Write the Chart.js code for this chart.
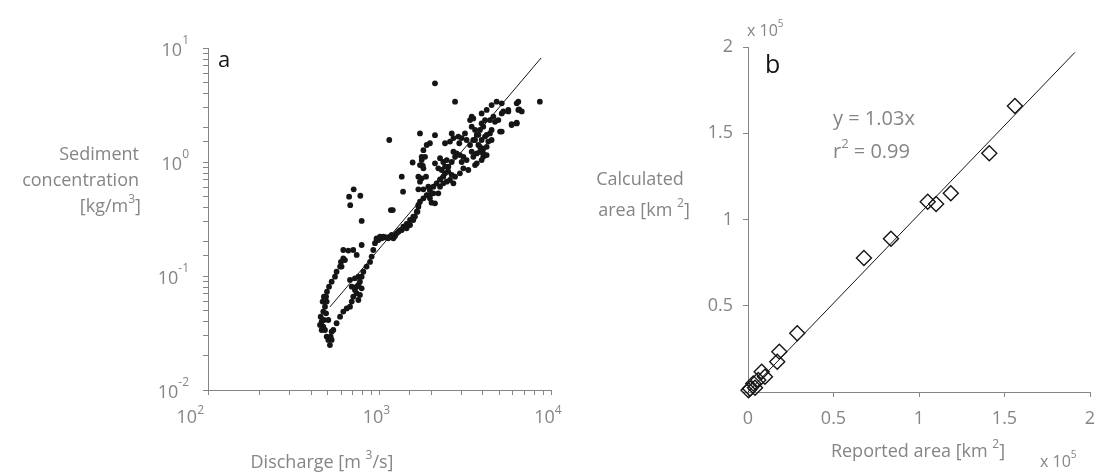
<!DOCTYPE html>
<html>
<head>
<meta charset="utf-8">
<title>Discharge / area charts</title>
<script src="https://cdn.jsdelivr.net/npm/chart.js@4.4.0/dist/chart.umd.min.js"></script>
<style>
  html, body { margin: 0; padding: 0; background: #fff; }
  #wrap { position: relative; width: 1104px; height: 474px; overflow: hidden; }
  #chartA { position: absolute; left: 0; top: 0; }
  #chartB { position: absolute; left: 560px; top: 0; }
</style>
</head>
<body>
<div id="wrap">
  <canvas id="chartA" width="600" height="474"></canvas>
  <canvas id="chartB" width="544" height="474"></canvas>
</div>
<script>
// ===============================
// DATA - panel a (log-log)
// ===============================
const discharge = [
  514, 492, 481, 470, 460, 454, 470, 481, 492, 488,
  494, 508, 526, 550, 562, 589, 596, 615, 460, 450,
  474, 488, 503, 519, 526, 503, 466, 474, 601, 629,
  615, 658, 703, 736, 787, 665, 707, 773, 675, 787,
  1165, 1195, 1140, 526, 538, 562, 589, 615, 644, 673,
  689, 703, 719, 736, 753, 769, 753, 787, 805, 841,
  881, 900, 920, 941, 962, 1007, 1052, 1101, 1151, 1205,
  1232, 1259, 1318, 1377, 1439, 1507, 1574, 1648, 1685, 1722,
  1803, 1884, 1968, 2061, 2153, 2254, 2355, 2410, 2520, 2637,
  2758, 1076, 1030, 985, 1125, 1178, 673, 689, 719, 736,
  769, 753, 787, 1348, 1372, 1560, 1762, 1787, 1685, 1762,
  1868, 1722, 1685, 1803, 1926, 1968, 2011, 2106, 2203, 1685,
  1665, 1610, 1574, 1507, 1439, 1348, 1290, 1178, 962, 2758,
  2106, 1722, 3448, 3940, 4217, 4505, 4819, 5160, 5637, 5160,
  6310, 6450, 5895, 6310, 5047, 4715, 4505, 3448, 3607, 3690,
  3524, 3373, 3773, 3940, 4122, 4027, 3855, 4217, 4310, 3690,
  3524, 4027, 4217, 4406, 4505, 3150, 3221, 3013, 2919, 2637,
  2698, 2881, 2576, 2410, 2698, 2818, 2944, 3083, 3221, 3013,
  2254, 2355, 2466, 2203, 2305, 2410, 2106, 1884, 1968, 1803,
  1843, 1762, 1722, 1803, 2520, 2637, 2758, 2944, 3607, 3083,
  3296, 8610, 6450, 6520, 6750, 5272, 5637, 5895, 6310, 5160,
  2106, 3855, 4027, 4122, 3940, 3773, 4217, 3607, 3855, 4027,
  3940, 3690, 3448, 4613, 4932, 4406, 3524, 3373, 2254, 2355,
  2466, 2061, 1968, 2698, 2576
];
const concentration = [
  0.0248, 0.0294, 0.0336, 0.0360, 0.0398, 0.0440, 0.0487, 0.0538, 0.0596, 0.0659,
  0.0729, 0.0806, 0.0892, 0.0987, 0.109, 0.121, 0.133, 0.143, 0.0336, 0.0372,
  0.0411, 0.0471, 0.0411, 0.0294, 0.0325, 0.0275, 0.0596, 0.0659, 0.121, 0.138,
  0.169, 0.167, 0.169, 0.153, 0.187, 0.496, 0.576, 0.506, 0.418, 0.304,
  0.379, 0.379, 1.56, 0.0275, 0.0336, 0.0385, 0.0440, 0.0487, 0.0520, 0.0538,
  0.0596, 0.0659, 0.0754, 0.0806, 0.0834, 0.0892, 0.0987, 0.0987, 0.109, 0.121,
  0.133, 0.148, 0.169, 0.194, 0.214, 0.221, 0.221, 0.218, 0.221, 0.214,
  0.224, 0.237, 0.253, 0.271, 0.286, 0.310, 0.332, 0.367, 0.406, 0.449,
  0.480, 0.513, 0.568, 0.608, 0.650, 0.703, 0.744, 0.796, 0.910, 1.00,
  1.11, 0.218, 0.214, 0.207, 0.214, 0.229, 0.0923, 0.0806, 0.0955, 0.0705,
  0.0682, 0.0616, 0.0780, 0.744, 0.549, 0.99, 1.11, 0.93, 0.744, 0.719,
  0.744, 0.672, 0.576, 0.576, 0.608, 0.480, 0.440, 0.434, 0.531, 0.420,
  0.367, 0.332, 0.310, 0.280, 0.262, 0.253, 0.245, 0.221, 0.207, 3.38,
  1.72, 1.78, 2.50, 2.67, 2.86, 3.16, 3.38, 3.27, 2.78, 2.67,
  3.27, 2.86, 2.11, 2.18, 1.85, 2.25, 1.91, 2.04, 1.91, 1.73,
  1.56, 1.41, 1.41, 1.56, 1.67, 1.31, 1.23, 1.36, 1.51, 1.19,
  1.11, 1.11, 1.15, 1.78, 1.56, 1.78, 1.56, 1.62, 1.46, 1.78,
  1.62, 1.67, 1.51, 1.46, 1.23, 1.19, 1.15, 1.11, 1.04, 1.00,
  1.08, 1.00, 1.04, 0.88, 0.851, 0.910, 0.973, 1.41, 1.46, 1.27,
  1.11, 1.04, 0.94, 0.88, 0.823, 0.770, 0.744, 0.796, 0.940, 0.880,
  0.851, 3.38, 3.38, 2.90, 2.78, 2.78, 2.86, 2.15, 2.21, 1.85,
  4.90, 1.91, 2.04, 2.33, 2.18, 1.73, 1.73, 1.56, 1.36, 1.19,
  1.04, 0.973, 1.23, 2.50, 2.33, 2.33, 2.41, 2.33, 0.608, 0.650,
  0.672, 0.531, 0.513, 0.650, 0.695
];
// fitted power law, two end points
const fitDischarge = [514, 8750];
const fitConcentration = [0.0535, 8.17];

const xTickValsA = [100, 1000, 10000];
const xTickLabelsA = ['10^{2}', '10^{3}', '10^{4}'];
const yTickValsA = [0.01, 0.1, 1, 10];
const yTickLabelsA = ['10^{-2}', '10^{-1}', '10^{0}', '10^{1}'];

// ===============================
// DATA - panel b (linear, km2)
// ===============================
const reportedArea = [156100, 141100, 118600, 110000, 105100, 83600, 67800, 28800, 18300,
  17100, 9900, 8000, 6000, 4100, 3100, 1200, 300];
const calculatedArea = [165800, 138400, 115200, 109000, 110300, 88900, 77700, 34000, 23400,
  17600, 8900, 11800, 7000, 2400, 5000, 2000, 1000];
const fitReported = [0, 191200];
const fitCalculated = [0, 196900];

// ===============================
// STYLE
// ===============================
const FONT = '"Open Sans", "Liberation Sans", sans-serif';
const GRAY = '#858585';
const INK = '#151515';

// "10^{3}" -> pieces with superscripts
function parseRich(str) {
    const parts = [];
    const re = /\^\{([^}]*)\}/g;
    let last = 0, m;
    while ((m = re.exec(str)) !== null) {
        if (m.index > last) parts.push({ t: str.slice(last, m.index), sup: false });
        parts.push({ t: m[1], sup: true });
        last = re.lastIndex;
    }
    if (last < str.length) parts.push({ t: str.slice(last), sup: false });
    return parts;
}

function drawRich(ctx, str, x, y, opts) {
    const size = opts.size || 18;
    const supSize = opts.supSize || Math.round(size * 0.65);
    const rise = opts.rise || size * 0.5;
    const parts = parseRich(str);
    let total = 0;
    const widths = parts.map(p => {
        ctx.font = (p.sup ? supSize : size) + 'px ' + FONT;
        const w = ctx.measureText(p.t).width;
        total += w;
        return w;
    });
    let cx = x;
    if (opts.align === 'center') cx = x - total / 2;
    else if (opts.align === 'right') cx = x - total;
    ctx.fillStyle = opts.color || GRAY;
    ctx.textAlign = 'left';
    ctx.textBaseline = 'alphabetic';
    parts.forEach((p, i) => {
        ctx.font = (p.sup ? supSize : size) + 'px ' + FONT;
        ctx.fillText(p.t, cx, p.sup ? y - rise : y);
        cx += widths[i];
    });
}

function axisOpts(extra) {
    return Object.assign({
        border: { display: true, color: GRAY, width: 1 },
        grid: { drawOnChartArea: false, drawTicks: true, color: GRAY, tickColor: GRAY, tickLength: 5 },
    }, extra);
}

// ===============================
// PANEL A
// ===============================
const panelAText = {
    id: 'panelAText',
    afterDraw(chart) {
        const { ctx, chartArea, scales } = chart;
        ctx.save();
        xTickValsA.forEach((v, i) => {
            const px = scales.x.getPixelForValue(v);
            if (i === 0) {
                drawRich(ctx, xTickLabelsA[i], px - 4, chartArea.bottom + 33, { align: 'right', size: 18, rise: 9 });
            } else {
                drawRich(ctx, xTickLabelsA[i], px - 3, chartArea.bottom + 33, { align: 'center', size: 18, rise: 9 });
            }
        });
        yTickValsA.forEach((v, i) => {
            const py = scales.y.getPixelForValue(v);
            drawRich(ctx, yTickLabelsA[i], chartArea.left - 19, py + 8, { align: 'right', size: 18, rise: 12 });
        });
        drawRich(ctx, 'Sediment', 139, 160, { align: 'right', size: 18 });
        drawRich(ctx, 'concentration', 139, 186, { align: 'right', size: 18 });
        drawRich(ctx, '[kg/m^{3}]', 141, 212, { align: 'right', size: 18, rise: 9 });
        drawRich(ctx, 'Discharge [m ^{3}/s]', 322, 468, { align: 'center', size: 18, rise: 9 });
        drawRich(ctx, 'a', chartArea.left + 10, chartArea.top + 19, { size: 22, color: INK });
        ctx.restore();
    }
};

const pointsA = discharge.map((d, i) => ({ x: d, y: concentration[i] }));
const fitA = fitDischarge.map((d, i) => ({ x: d, y: fitConcentration[i] }));

new Chart(document.getElementById('chartA'), {
    type: 'scatter',
    data: {
        datasets: [
            {
                data: pointsA,
                pointRadius: 2.9,
                pointHoverRadius: 2.9,
                pointBackgroundColor: INK,
                pointBorderWidth: 0,
                clip: false
            },
            {
                data: fitA,
                showLine: true,
                borderColor: INK,
                borderWidth: 1,
                pointRadius: 0,
                fill: false
            }
        ]
    },
    options: {
        responsive: false,
        animation: false,
        events: [],
        layout: { padding: { left: 0, right: 49, top: 48, bottom: 0 } },
        plugins: { legend: { display: false }, tooltip: { enabled: false } },
        scales: {
            x: axisOpts({
                type: 'logarithmic', min: 100, max: 10000,
                ticks: { autoSkip: false, maxRotation: 0, callback: () => '' },
                afterFit: s => { s.height = 84; s.paddingLeft = 0; s.paddingRight = 0; }
            }),
            y: axisOpts({
                type: 'logarithmic', min: 0.01, max: 10,
                ticks: { autoSkip: false, callback: () => '' },
                afterFit: s => { s.width = 208; s.paddingTop = 0; s.paddingBottom = 0; }
            })
        }
    },
    plugins: [panelAText]
});

// ===============================
// PANEL B
// ===============================
const panelBText = {
    id: 'panelBText',
    afterDraw(chart) {
        const { ctx, chartArea } = chart;
        ctx.save();
        drawRich(ctx, 'b', chartArea.left + 17, chartArea.top + 26, { size: 25, color: INK });
        drawRich(ctx, 'y = 1.03x', 273, 125, { size: 20 });
        drawRich(ctx, 'r^{2} = 0.99', 273, 158, { size: 20, rise: 10 });
        drawRich(ctx, 'x 10^{5}', 187, 36, { size: 16, rise: 9 });
        drawRich(ctx, 'x 10^{5}', 480, 467, { size: 16, rise: 9 });
        drawRich(ctx, 'Calculated', 80, 185, { align: 'center', size: 18 });
        drawRich(ctx, 'area [km ^{2}]', 84, 216, { align: 'center', size: 18, rise: 9 });
        drawRich(ctx, 'Reported area [km ^{2}]', 358, 457, { align: 'center', size: 18, rise: 9 });
        ctx.restore();
    }
};

const pointsB = reportedArea.map((r, i) => ({ x: r, y: calculatedArea[i] }));
const fitB = fitReported.map((r, i) => ({ x: r, y: fitCalculated[i] }));

const tickFont = { family: FONT, size: 18 };

new Chart(document.getElementById('chartB'), {
    type: 'scatter',
    data: {
        datasets: [
            {
                data: pointsB,
                pointStyle: 'rectRot',
                pointRadius: 7.5,
                pointHoverRadius: 7.5,
                pointBackgroundColor: 'rgba(255,255,255,0)',
                pointBorderColor: INK,
                pointBorderWidth: 1.4,
                clip: false
            },
            {
                data: fitB,
                showLine: true,
                borderColor: INK,
                borderWidth: 1,
                pointRadius: 0,
                fill: false
            }
        ]
    },
    options: {
        responsive: false,
        animation: false,
        events: [],
        layout: { padding: { left: 0, right: 14, top: 47, bottom: 0 } },
        plugins: { legend: { display: false }, tooltip: { enabled: false } },
        scales: {
            x: axisOpts({
                type: 'linear', min: 0, max: 200000,
                ticks: {
                    stepSize: 50000, autoSkip: false, maxRotation: 0,
                    color: GRAY, font: tickFont, padding: 11,
                    callback: v => String(v / 100000)
                },
                afterFit: s => { s.height = 82; s.paddingLeft = 0; s.paddingRight = 0; }
            }),
            y: axisOpts({
                type: 'linear', min: 0, max: 200000,
                ticks: {
                    stepSize: 50000, autoSkip: false,
                    color: GRAY, font: tickFont, padding: 10,
                    callback: v => (v === 0 ? '' : String(v / 100000))
                },
                afterFit: s => { s.width = 188; s.paddingTop = 0; s.paddingBottom = 0; }
            })
        }
    },
    plugins: [panelBText]
});
</script>
</body>
</html>
